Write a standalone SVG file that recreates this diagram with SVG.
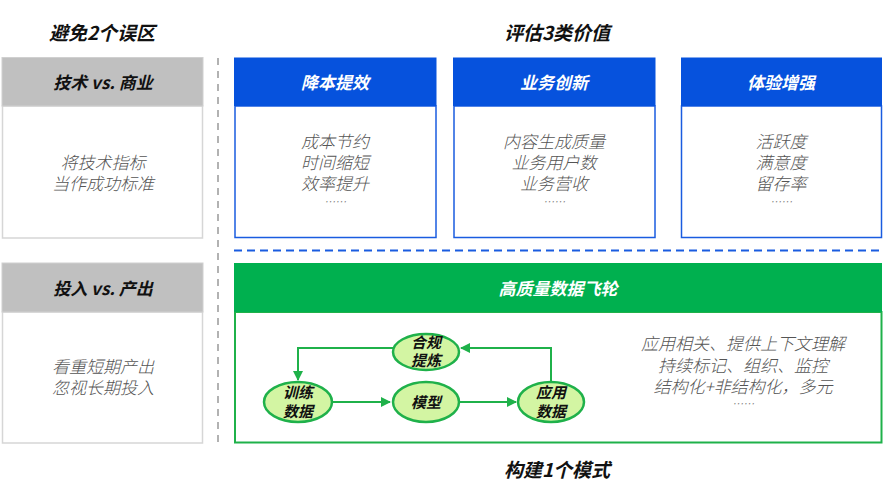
<svg xmlns="http://www.w3.org/2000/svg" width="883" height="492" viewBox="0 0 883 492">
<defs>
<style>
text{font-family:"Noto Sans CJK SC","Liberation Sans",sans-serif;font-style:italic;text-anchor:middle}
.title{font-size:19px;font-weight:bold;fill:#111}
.ghead{font-size:17px;font-weight:bold;fill:#111}
.whead{font-size:17px;font-weight:bold;fill:#fff}
.body{font-size:17px;fill:#555;font-weight:300}
.dots{font-size:11px}
.node{font-size:15px;font-weight:bold;fill:#111}
.ell{fill:#d3f5a3;stroke:#1fb14a;stroke-width:2.5}
.conn{fill:none;stroke:#1fb14a;stroke-width:2}
</style>
<marker id="ah" viewBox="0 0 10 10" refX="9" refY="5" markerWidth="5" markerHeight="5" orient="auto-start-reverse"><path d="M0,0L10,5L0,10z" fill="#1fb14a"/></marker>
</defs>
<rect width="883" height="492" fill="#fff"/>

<text class="title" x="102" y="40">避免2个误区</text>
<text class="title" x="557" y="40">评估3类价值</text>
<text class="title" x="557" y="477">构建1个模式</text>

<line x1="218" y1="58" x2="218" y2="442" stroke="#999" stroke-width="1.5" stroke-dasharray="7,6"/>
<line x1="234" y1="250.5" x2="883" y2="250.5" stroke="#1a5ce0" stroke-width="2" stroke-dasharray="8,5"/>

<g id="mistake1">
<rect x="2.5" y="106" width="200" height="132" fill="#fff" stroke="#d6d6d6" stroke-width="1.5"/>
<rect x="2" y="57.5" width="201" height="48.5" fill="#c0c0c0" stroke="#d0d0d0" stroke-width="1"/>
<text class="ghead" x="103" y="89">技术 vs. 商业</text>
<text class="body" x="103" y="169">将技术指标<tspan x="103" dy="21">当作成功标准</tspan></text>
</g>

<g id="mistake2">
<rect x="2.5" y="312" width="200" height="131" fill="#fff" stroke="#d6d6d6" stroke-width="1.5"/>
<rect x="2" y="263" width="201" height="49" fill="#c0c0c0" stroke="#d0d0d0" stroke-width="1"/>
<text class="ghead" x="103" y="295">投入 vs. 产出</text>
<text class="body" x="103" y="373">看重短期产出<tspan x="103" dy="21">忽视长期投入</tspan></text>
</g>

<g id="value1">
<rect x="235" y="106" width="201" height="131.5" fill="#fff" stroke="#1a5ce0" stroke-width="1.5"/>
<rect x="234" y="57.5" width="202.5" height="48.5" fill="#0652dd"/>
<text class="whead" x="335" y="89">降本提效</text>
<text class="body" x="335" y="148">成本节约<tspan x="335" dy="21">时间缩短</tspan><tspan x="335" dy="21">效率提升</tspan><tspan class="dots" x="335" dy="16">……</tspan></text>
</g>

<g id="value2">
<rect x="454" y="106" width="201" height="131.5" fill="#fff" stroke="#1a5ce0" stroke-width="1.5"/>
<rect x="453" y="57.5" width="202.5" height="48.5" fill="#0652dd"/>
<text class="whead" x="554" y="89">业务创新</text>
<text class="body" x="554" y="148">内容生成质量<tspan x="554" dy="21">业务用户数</tspan><tspan x="554" dy="21">业务营收</tspan><tspan class="dots" x="554" dy="16">……</tspan></text>
</g>

<g id="value3">
<rect x="681.5" y="106" width="200" height="131.5" fill="#fff" stroke="#1a5ce0" stroke-width="1.5"/>
<rect x="681" y="57.5" width="201" height="48.5" fill="#0652dd"/>
<text class="whead" x="781" y="89">体验增强</text>
<text class="body" x="781" y="148">活跃度<tspan x="781" dy="21">满意度</tspan><tspan x="781" dy="21">留存率</tspan><tspan class="dots" x="781" dy="16">……</tspan></text>
</g>

<g id="flywheel">
<rect x="235" y="312" width="646.5" height="130.5" fill="#fff" stroke="#1fb14a" stroke-width="2"/>
<rect x="234" y="263" width="648" height="49" fill="#00b04f"/>
<text class="whead" x="558" y="295">高质量数据飞轮</text>
<text class="body" x="743" y="350">应用相关、提供上下文理解<tspan x="743" dy="22">持续标记、组织、监控</tspan><tspan x="743" dy="21">结构化+非结构化，多元</tspan><tspan class="dots" x="743" dy="15">……</tspan></text>
</g>

<g id="connectors">
<line class="conn" x1="332" y1="402" x2="390" y2="402" marker-end="url(#ah)"/>
<line class="conn" x1="459" y1="402" x2="516" y2="402" marker-end="url(#ah)"/>
<polyline class="conn" points="551,382 551,348 461,348" marker-end="url(#ah)"/>
<polyline class="conn" points="393,348 298,348 298,380" marker-end="url(#ah)"/>
</g>

<g id="node-compliance">
<ellipse class="ell" cx="426" cy="352" rx="33" ry="18"/>
<text class="node" x="426" y="348">合规<tspan x="426" dy="18">提炼</tspan></text>
</g>
<g id="node-train">
<ellipse class="ell" cx="298" cy="402" rx="34" ry="20"/>
<text class="node" x="298" y="398">训练<tspan x="298" dy="19">数据</tspan></text>
</g>
<g id="node-model">
<ellipse class="ell" cx="426" cy="402" rx="33" ry="20"/>
<text class="node" x="426" y="408">模型</text>
</g>
<g id="node-app">
<ellipse class="ell" cx="551" cy="402" rx="33" ry="20"/>
<text class="node" x="551" y="398">应用<tspan x="551" dy="19">数据</tspan></text>
</g>
</svg>
